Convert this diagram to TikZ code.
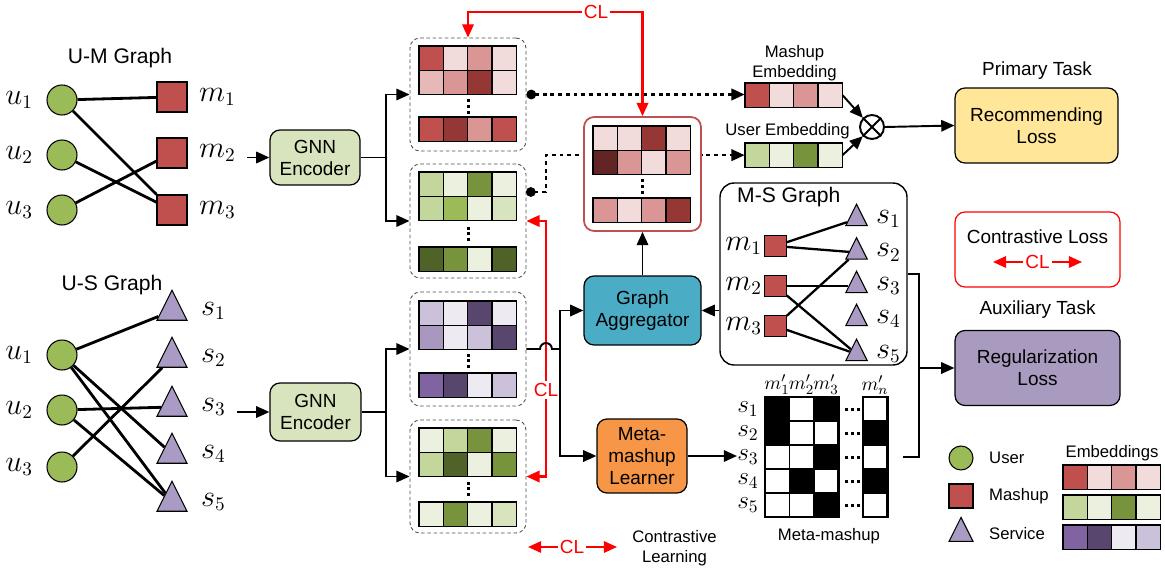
\documentclass[tikz,border=0pt]{standalone}
\usepackage{fontspec}
\setmainfont{Liberation Sans}
\usetikzlibrary{arrows.meta,shapes.geometric}

\definecolor{rd1}{HTML}{C0504D}
\definecolor{rd2}{HTML}{F2DCDB}
\definecolor{rd3}{HTML}{D99694}
\definecolor{rd4}{HTML}{953735}
\definecolor{rd5}{HTML}{E6B9B8}
\definecolor{rd6}{HTML}{632523}
\definecolor{gn1}{HTML}{C3D69B}
\definecolor{gn2}{HTML}{EBF1DE}
\definecolor{gn3}{HTML}{77933C}
\definecolor{gn4}{HTML}{9BBB59}
\definecolor{gn5}{HTML}{D7E4BD}
\definecolor{gn6}{HTML}{4F6228}
\definecolor{pp1}{HTML}{CCC1DA}
\definecolor{pp2}{HTML}{EDEAF2}
\definecolor{pp3}{HTML}{58466E}
\definecolor{pp4}{HTML}{A898BE}
\definecolor{pp5}{HTML}{8064A2}
\definecolor{svcc}{HTML}{A99BC3}
\definecolor{aggc}{HTML}{4BACC6}
\definecolor{mmlc}{HTML}{F79646}
\definecolor{recc}{HTML}{FFE699}
\definecolor{regc}{HTML}{A99BBF}

% one row of four embedding cells: x, y, colours
\newcommand{\embrow}[3]{%
  \foreach \c [count=\i from 0] in {#3}
    \draw[cell,fill=\c] ({#1+24.3*\i},#2) rectangle ++(24.3,24.3);}
% three vertical dots
\newcommand{\vdotsat}[2]{%
  \foreach \k in {0,1,2}
    \fill ({#1-1.5},{#2+5.8*\k-1.5}) rectangle ++(3,3);}

\begin{document}
\begin{tikzpicture}[x=0.02cm,y=-0.02cm,
    every node/.style={font=\fontsize{10.8}{12.5}\selectfont},
    conn/.style={line width=1.1pt},
    arr/.style={line width=1.1pt,-{Triangle[length=7.5pt,width=6.5pt]}},
    clarr/.style={red,line width=1.2pt,-{Triangle[length=7.5pt,width=6.5pt]}},
    cltext/.style={text=red,inner sep=1pt,fill=white},
    dotconn/.style={line width=1.3pt,dash pattern=on 2.2pt off 2.2pt,
      {Circle[length=5.5pt]}-{Triangle[length=7.5pt,width=6.5pt]}},
    gedge/.style={line width=1.6pt},
    msedge/.style={line width=1.3pt},
    user/.style={circle,draw,line width=0.6pt,fill=gn4,minimum size=0.6cm,inner sep=0pt},
    mashup/.style={rectangle,draw,line width=0.6pt,fill=rd1,minimum size=0.6cm,inner sep=0pt},
    service/.style={isosceles triangle,isosceles triangle stretches,shape border rotate=90,
      draw,line width=0.6pt,fill=svcc,minimum width=0.6cm,minimum height=0.6cm,inner sep=0pt},
    gtitle/.style={font=\fontsize{12}{14}\selectfont},
    mlbl/.style={font=\fontsize{16}{16}\selectfont,inner sep=1pt},
    rowlbl/.style={font=\fontsize{14}{14}\selectfont,inner sep=0pt},
    smalltxt/.style={font=\fontsize{9.5}{11.3}\selectfont,align=center},
    procbox/.style={draw,line width=0.7pt,rounded corners=0.2cm,align=center,inner sep=0pt},
    embgroup/.style={draw=black!70,dash pattern=on 2pt off 1.5pt,line width=0.5pt,
      rounded corners=0.2cm,inner sep=0pt,minimum width=2.32cm},
    cell/.style={draw,line width=0.8pt},
    mcell/.style={draw,line width=0.7pt}]
\useasboundingbox (0,0) rectangle (1165,571);

% U-M graph
\node[gtitle] (umt) at (120,58) {U-M Graph};
\foreach \i/\y in {1/100,2/155,3/210} {
  \node[user] (u\i) at (62,\y) {};
  \node[mlbl,anchor=east] (lu\i) at (35,\y) {$u_\i$};
}
\foreach \i/\y in {1/97,2/153,3/210} {
  \node[mashup] (m\i) at (172,\y) {};
  \node[mlbl,anchor=west] (lm\i) at (197,\y) {$m_\i$};
}
\foreach \a/\b in {1/1,1/3,2/3,3/2}
  \draw[gedge] (u\a) -- (m\b);

% U-S graph
\node[gtitle] (ust) at (112,285) {U-S Graph};
\foreach \i/\y in {1/355,2/410,3/467} {
  \node[user] (su\i) at (62,\y) {};
  \node[mlbl,anchor=east] (lsu\i) at (35,\y) {$u_\i$};
}
\foreach \i/\y in {1/311,2/358,3/407,4/454,5/502} {
  \node[service] (s\i) at (172,\y) {};
  \node[mlbl,anchor=west] (ls\i) at (199,\y) {$s_\i$};
}
\foreach \a/\b in {1/1,1/4,1/5,2/3,2/5,3/2}
  \draw[gedge] (su\a) -- (s\b);

% encoders
\node[procbox,fill=gn5,minimum width=1.8cm,minimum height=1.1cm] (gnn1) at (315,157.5) {GNN\\Encoder};
\node[procbox,fill=gn5,minimum width=1.82cm,minimum height=1.16cm] (gnn2) at (315.5,412) {GNN\\Encoder};
\coordinate (in1) at (247,157.5);
\coordinate (in2) at (237,412);
\draw[arr] (in1) -- (gnn1.west);
\draw[arr] (in2) -- (gnn2.west);

% embedding groups
\node[embgroup,minimum height=2.26cm] (embM) at (468,94.5) {};
\node[embgroup,minimum height=2.28cm] (embU) at (468,221) {};
\node[embgroup,minimum height=2.28cm] (embS) at (468,349) {};
\node[embgroup,minimum height=2.26cm] (embU2) at (468,476.5) {};
\embrow{419}{46}{rd1,rd2,rd3,rd2}
\embrow{419}{70.3}{rd5,rd3,rd4,rd2}
\embrow{419}{117}{rd1,rd4,rd3,rd1}
\vdotsat{468}{100.5}
\embrow{419}{172}{gn1,gn2,gn3,gn2}
\embrow{419}{196.3}{gn1,gn4,gn2,gn5}
\embrow{419}{247}{gn6,gn3,gn2,gn6}
\vdotsat{468}{228}
\embrow{419}{301}{pp1,pp2,pp3,pp2}
\embrow{419}{325.3}{pp4,pp2,pp1,pp3}
\embrow{419}{373}{pp5,pp3,pp2,pp1}
\vdotsat{468}{355}
\embrow{419}{428}{gn2,gn1,gn3,gn2}
\embrow{419}{452.3}{gn1,gn6,gn2,gn3}
\embrow{419}{502}{gn2,gn3,gn2,gn5}
\vdotsat{468}{483}

\coordinate (br1) at (386,157.5);
\coordinate (br2) at (386,412);
\draw[conn] (gnn1.east) -- (br1);
\draw[arr] (br1) |- (embM.west);
\draw[arr] (br1) |- (embU.west);
\draw[conn] (gnn2.east) -- (br2);
\draw[arr] (br2) |- (embS.west);
\draw[arr] (br2) |- (embU2.west);

% output embeddings
\node[inner sep=0pt,minimum width=1.944cm,minimum height=0.486cm] (mvec) at (793.6,95.15) {};
\node[inner sep=0pt,minimum width=1.944cm,minimum height=0.486cm] (uvec) at (793.6,155.15) {};
\embrow{745}{83}{rd1,rd2,rd3,rd2}
\embrow{745}{143}{gn1,gn2,gn3,gn2}
\node[smalltxt] (mvect) at (794.5,63) {Mashup\\Embedding};
\node[smalltxt] (uvect) at (787.5,131) {User Embedding};

\coordinate (ud) at (526,192);
\draw[dotconn] (embM.east) -- (embM.east -| mvec.west);
\draw[dotconn] (ud) -- ++(20,0) |- (uvec.west);

% aggregated embedding
\node[draw=rd1,line width=1pt,fill=white,rounded corners=0.2cm,inner sep=0pt,
  minimum width=2.34cm,minimum height=2.28cm] (aggemb) at (642.5,174) {};
\embrow{593}{126}{rd2,rd2,rd4,rd2}
\embrow{593}{150.3}{rd6,rd3,rd2,rd3}
\embrow{593}{198}{rd3,rd2,rd3,rd4}
\vdotsat{642}{180.5}

% contrastive links
\node[cltext] (cltop) at (596,12) {CL};
\draw[clarr] (cltop.east) -| (aggemb.north);
\draw[clarr] (cltop.west) -| (embM.north);
\node[cltext] (clmid) at (546,390) {CL};
\draw[clarr] (clmid.north) |- (embU.east);
\draw[clarr] (clmid.south) |- (embU2.east);

% processing blocks
\node[procbox,fill=aggc,minimum width=2.34cm,minimum height=1.38cm] (gagg) at (642.5,310.5) {Graph\\Aggregator};
\node[procbox,fill=mmlc,minimum width=1.8cm,minimum height=1.48cm] (mml) at (642,456) {Meta-\\mashup\\Learner};
\coordinate (hop) at (540,349);
\coordinate (br3) at (560,349);
\draw[conn] (embS.east) -- (hop) arc[start angle=180,end angle=0,radius=3.4pt] -- (br3);
\draw[arr] (br3) |- (gagg.west);
\draw[arr] (br3) |- (mml.west);
\draw[arr] (gagg.north) -- (aggemb.south);

% M-S graph
\node[draw,line width=0.8pt,rounded corners=0.28cm,inner sep=0pt,
  minimum width=3.74cm,minimum height=3.64cm] (msg) at (813.5,274) {};
\node[gtitle,anchor=west] (mst) at (731,197) {M-S Graph};
\foreach \i/\y in {1/246,2/286,3/326} {
  \node[mashup,minimum size=0.43cm] (msm\i) at (775.5,\y) {};
  \node[mlbl,anchor=east] (lmsm\i) at (764,\y) {$m_\i$};
}
\foreach \i/\y in {1/219,2/252.5,3/286,4/319,5/354} {
  \node[service,minimum width=0.43cm,minimum height=0.43cm] (mss\i) at (856.5,\y) {};
  \node[mlbl,anchor=west] (lmss\i) at (874,\y) {$s_\i$};
}
\foreach \a/\b in {1/1,1/2,2/3,2/5,3/2,3/5}
  \draw[msedge] (msm\a) -- (mss\b);
\draw[arr] (msg.west |- gagg.east) -- (gagg.east);

% meta-mashup matrix
\foreach \cx/\pat in {765/{black,black,white,white,white},
                      789.5/{white,white,white,black,white},
                      814/{black,white,black,white,black},
                      863/{white,black,white,black,white}} {
  \foreach \c [count=\r from 0] in \pat
    \draw[mcell,fill=\c] (\cx,{397+24*\r}) rectangle ++(24.5,24);
}
\draw[line width=1.2pt] (765,397) rectangle (838.5,517);
\draw[line width=1.2pt] (863,397) rectangle (887.5,517);
\foreach \r in {0,...,4}
  \foreach \k in {0,1,2}
    \fill ({844.5+6*\k},{407.5+24*\r}) rectangle ++(3,3);
\foreach \i in {1,...,5}
  \node[rowlbl,anchor=east] (ms\i) at (759,{409+24*(\i-1)}) {$s_\i$};
\foreach \i/\x in {1/777,2/801.5,3/826,n/875}
  \node[font=\fontsize{11}{11}\selectfont,inner sep=0pt] (mh\i) at (\x,385) {$m_\i^{\prime}$};
\node[smalltxt] (mmt) at (829,536) {Meta-mashup};
\draw[arr] (mml.east) -- (mml.east -| ms3.west);

% losses
\node[procbox,fill=recc,minimum width=3.26cm,minimum height=1.5cm] (recl) at (1036.5,125.5) {Recommending\\Loss};
\node (prim) at (1037,71) {Primary Task};
\node[procbox,draw=red,fill=white,minimum width=3.3cm,minimum height=1.5cm] (closs) at (1037.5,249.5) {};
\node (closst) at (1037.5,237) {Contrastive Loss};
\node[cltext] (clbox) at (1037.5,262) {CL};
\coordinate (clba) at (993,262);
\coordinate (clbb) at (1082,262);
\draw[clarr] (clbox.west) -- (clba);
\draw[clarr] (clbox.east) -- (clbb);
\node (auxt) at (1037.5,310) {Auxiliary Task};
\node[procbox,fill=regc,minimum width=3.3cm,minimum height=1.5cm] (regl) at (1037.5,368) {Regularization\\Loss};

% product of the two embeddings
\node[circle,draw,line width=1.1pt,minimum size=0.48cm,inner sep=0pt] (mul) at (872,127) {};
\draw[line width=1.1pt] (mul.45) -- (mul.225) (mul.135) -- (mul.315);
\draw[arr] (mvec.east) -- (mul.135);
\draw[arr] (uvec.east) -- (mul.225);
\draw[arr] (mul.east) -- (recl.west);

% to regularization loss
\coordinate (jr) at (919,368);
\coordinate (mmo) at (903,457);
\draw[conn] (msg.east) -| (jr);
\draw[conn] (mmo) -| (jr);
\draw[arr] (jr) -- (regl.west);

% bottom note
\node[cltext] (clleg) at (572,547) {CL};
\coordinate (cla) at (528,547);
\coordinate (clb) at (617,547);
\draw[clarr] (clleg.west) -- (cla);
\draw[clarr] (clleg.east) -- (clb);
\node[smalltxt] (clnote) at (674.5,548) {Contrastive\\Learning};

% legend
\node[user,minimum size=0.48cm] (lgu) at (961,458) {};
\node[mashup,minimum size=0.48cm] (lgm) at (961,496) {};
\node[service,minimum width=0.48cm,minimum height=0.48cm] (lgs) at (961,534) {};
\node[smalltxt,anchor=west] (lgut) at (983,458) {User};
\node[smalltxt,anchor=west] (lgmt) at (983,496) {Mashup};
\node[smalltxt,anchor=west] (lgst) at (983,534) {Service};
\node[smalltxt] (lget) at (1112,453) {Embeddings};
\embrow{1063}{465}{rd1,rd2,rd3,rd2}
\embrow{1063}{495}{gn1,gn2,gn3,gn2}
\embrow{1063}{525}{pp5,pp3,pp2,pp1}
\end{tikzpicture}
\end{document}
